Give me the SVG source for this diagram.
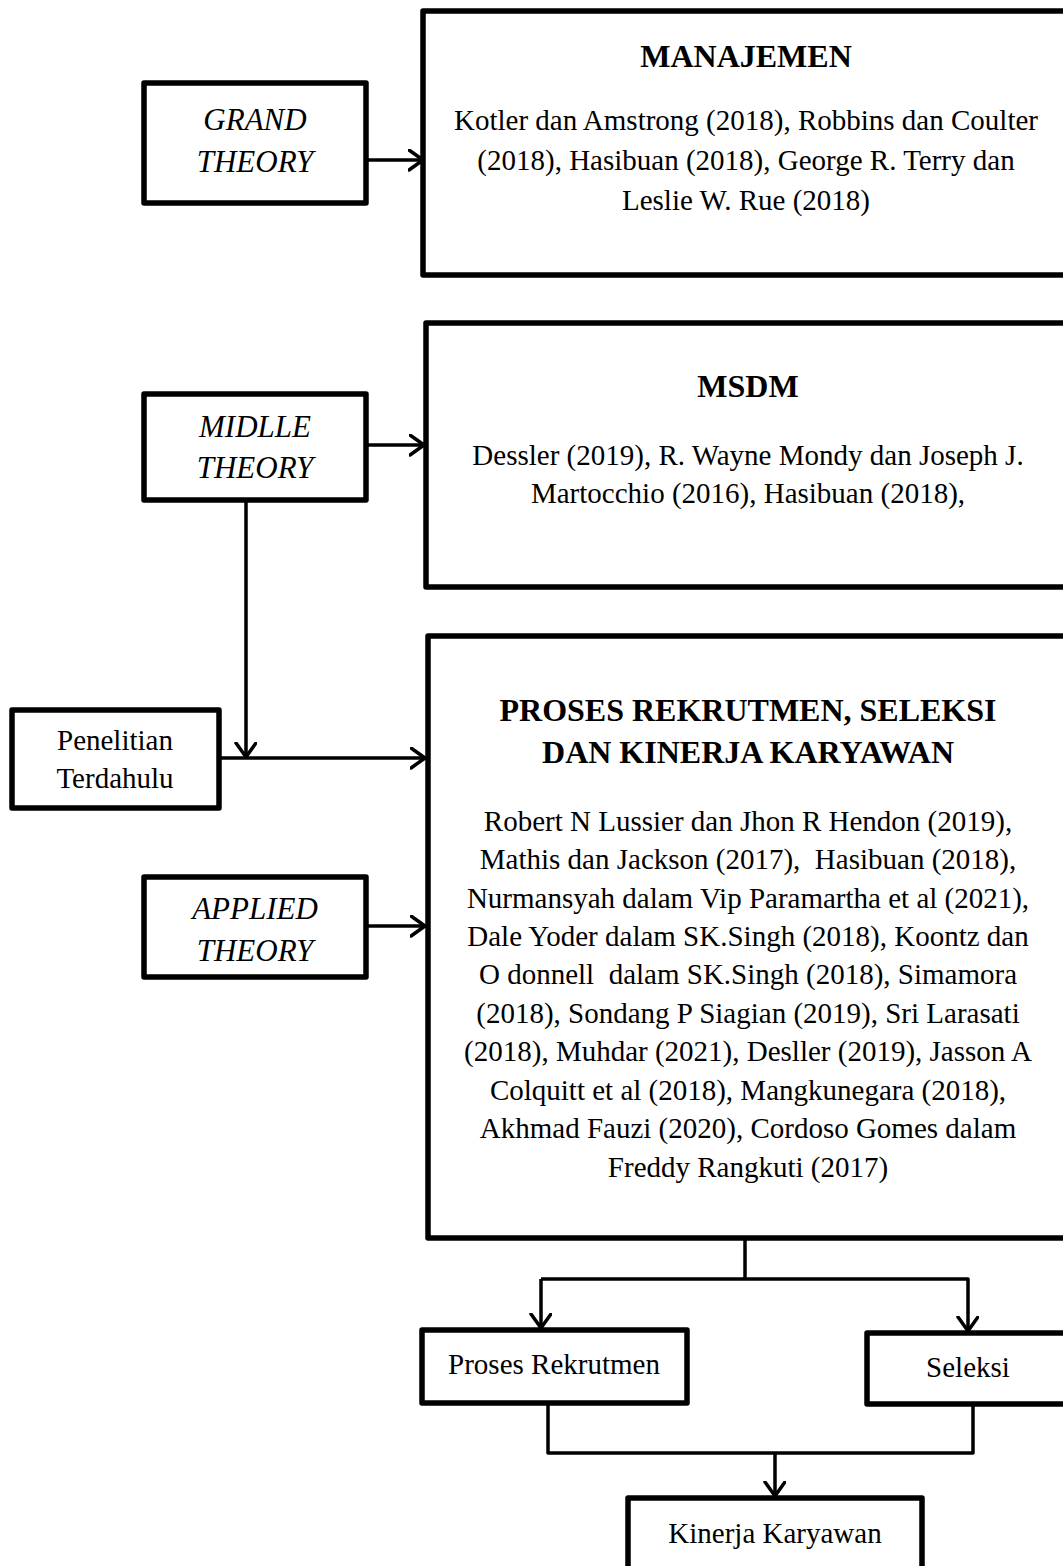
<svg xmlns="http://www.w3.org/2000/svg" width="1063" height="1566" viewBox="0 0 1063 1566">
<style>
.box{fill:#fff;stroke:#000;stroke-width:5.5;stroke-linejoin:round}
.con{fill:none;stroke:#000;stroke-width:3.5;stroke-linejoin:round}
.t{font-family:"Liberation Serif","Times New Roman",serif;font-size:29px;fill:#000;text-anchor:middle}
.it{font-style:italic;font-size:31px}
.b{font-weight:bold;font-size:32px}
</style>
<defs>
<marker id="arr" markerUnits="userSpaceOnUse" markerWidth="20" markerHeight="26" refX="15" refY="11" orient="auto" viewBox="0 0 20 26">
<path d="M1,1 L15,11 L1,21" fill="none" stroke="#000" stroke-width="3.5" stroke-linecap="round" stroke-linejoin="round"/>
</marker>
</defs>
<rect width="1063" height="1566" fill="#fff"/>
<g id="connectors">
<line class="con" x1="366" y1="160" x2="423" y2="160" marker-end="url(#arr)"/>
<line class="con" x1="366" y1="445" x2="424" y2="445" marker-end="url(#arr)"/>
<line class="con" x1="246" y1="500" x2="246" y2="757" marker-end="url(#arr)"/>
<line class="con" x1="219" y1="758" x2="425" y2="758" marker-end="url(#arr)"/>
<line class="con" x1="366" y1="926" x2="425" y2="926" marker-end="url(#arr)"/>
<polyline class="con" points="745,1238 745,1279"/>
<polyline class="con" points="541,1279 968,1279 968,1331" marker-end="url(#arr)"/>
<line class="con" x1="541" y1="1279" x2="541" y2="1328" marker-end="url(#arr)"/>
<polyline class="con" points="548,1403 548,1453 973,1453 973,1404"/>
<line class="con" x1="775" y1="1453" x2="775" y2="1496" marker-end="url(#arr)"/>
</g>
<g id="grand">
<rect class="box" x="144" y="83" width="222" height="120"/>
<text class="t it" x="255" y="130">GRAND</text>
<text class="t it" x="255" y="172">THEORY</text>
</g>
<g id="manajemen">
<rect class="box" x="423" y="11" width="650" height="264"/>
<text class="t b" x="746" y="67">MANAJEMEN</text>
<text class="t" x="746" y="130">Kotler dan Amstrong (2018), Robbins dan Coulter</text>
<text class="t" x="746" y="170">(2018), Hasibuan (2018), George R. Terry dan</text>
<text class="t" x="746" y="210">Leslie W. Rue (2018)</text>
</g>
<g id="midlle">
<rect class="box" x="144" y="394" width="222" height="106"/>
<text class="t it" x="255" y="437">MIDLLE</text>
<text class="t it" x="255" y="478">THEORY</text>
</g>
<g id="msdm">
<rect class="box" x="426" y="323" width="647" height="264"/>
<text class="t b" x="748" y="397">MSDM</text>
<text class="t" x="748" y="465">Dessler (2019), R. Wayne Mondy dan Joseph J.</text>
<text class="t" x="748" y="503">Martocchio (2016), Hasibuan (2018),</text>
</g>
<g id="penelitian">
<rect class="box" x="12" y="710" width="207" height="98"/>
<text class="t" x="115" y="750">Penelitian</text>
<text class="t" x="115" y="788">Terdahulu</text>
</g>
<g id="applied">
<rect class="box" x="144" y="877" width="222" height="100"/>
<text class="t it" x="255" y="919">APPLIED</text>
<text class="t it" x="255" y="961">THEORY</text>
</g>
<g id="proses">
<rect class="box" x="428" y="636" width="645" height="602"/>
<text class="t b" x="748" y="721">PROSES REKRUTMEN, SELEKSI</text>
<text class="t b" x="748" y="763">DAN KINERJA KARYAWAN</text>
<text class="t" x="748" y="831">Robert N Lussier dan Jhon R Hendon (2019),</text>
<text class="t" x="748" y="869" xml:space="preserve">Mathis dan Jackson (2017),  Hasibuan (2018),</text>
<text class="t" x="748" y="908">Nurmansyah dalam Vip Paramartha et al (2021),</text>
<text class="t" x="748" y="946">Dale Yoder dalam SK.Singh (2018), Koontz dan</text>
<text class="t" x="748" y="984" xml:space="preserve">O donnell  dalam SK.Singh (2018), Simamora</text>
<text class="t" x="748" y="1023">(2018), Sondang P Siagian (2019), Sri Larasati</text>
<text class="t" x="748" y="1061">(2018), Muhdar (2021), Desller (2019), Jasson A</text>
<text class="t" x="748" y="1100">Colquitt et al (2018), Mangkunegara (2018),</text>
<text class="t" x="748" y="1138">Akhmad Fauzi (2020), Cordoso Gomes dalam</text>
<text class="t" x="748" y="1177">Freddy Rangkuti (2017)</text>
</g>
<g id="rekrutmen">
<rect class="box" x="422" y="1330" width="265" height="73"/>
<text class="t" x="554" y="1374">Proses Rekrutmen</text>
</g>
<g id="seleksi">
<rect class="box" x="867" y="1333" width="210" height="71"/>
<text class="t" x="968" y="1377">Seleksi</text>
</g>
<g id="kinerja">
<rect class="box" x="628" y="1498" width="294" height="90"/>
<text class="t" x="775" y="1543">Kinerja Karyawan</text>
</g>
</svg>
